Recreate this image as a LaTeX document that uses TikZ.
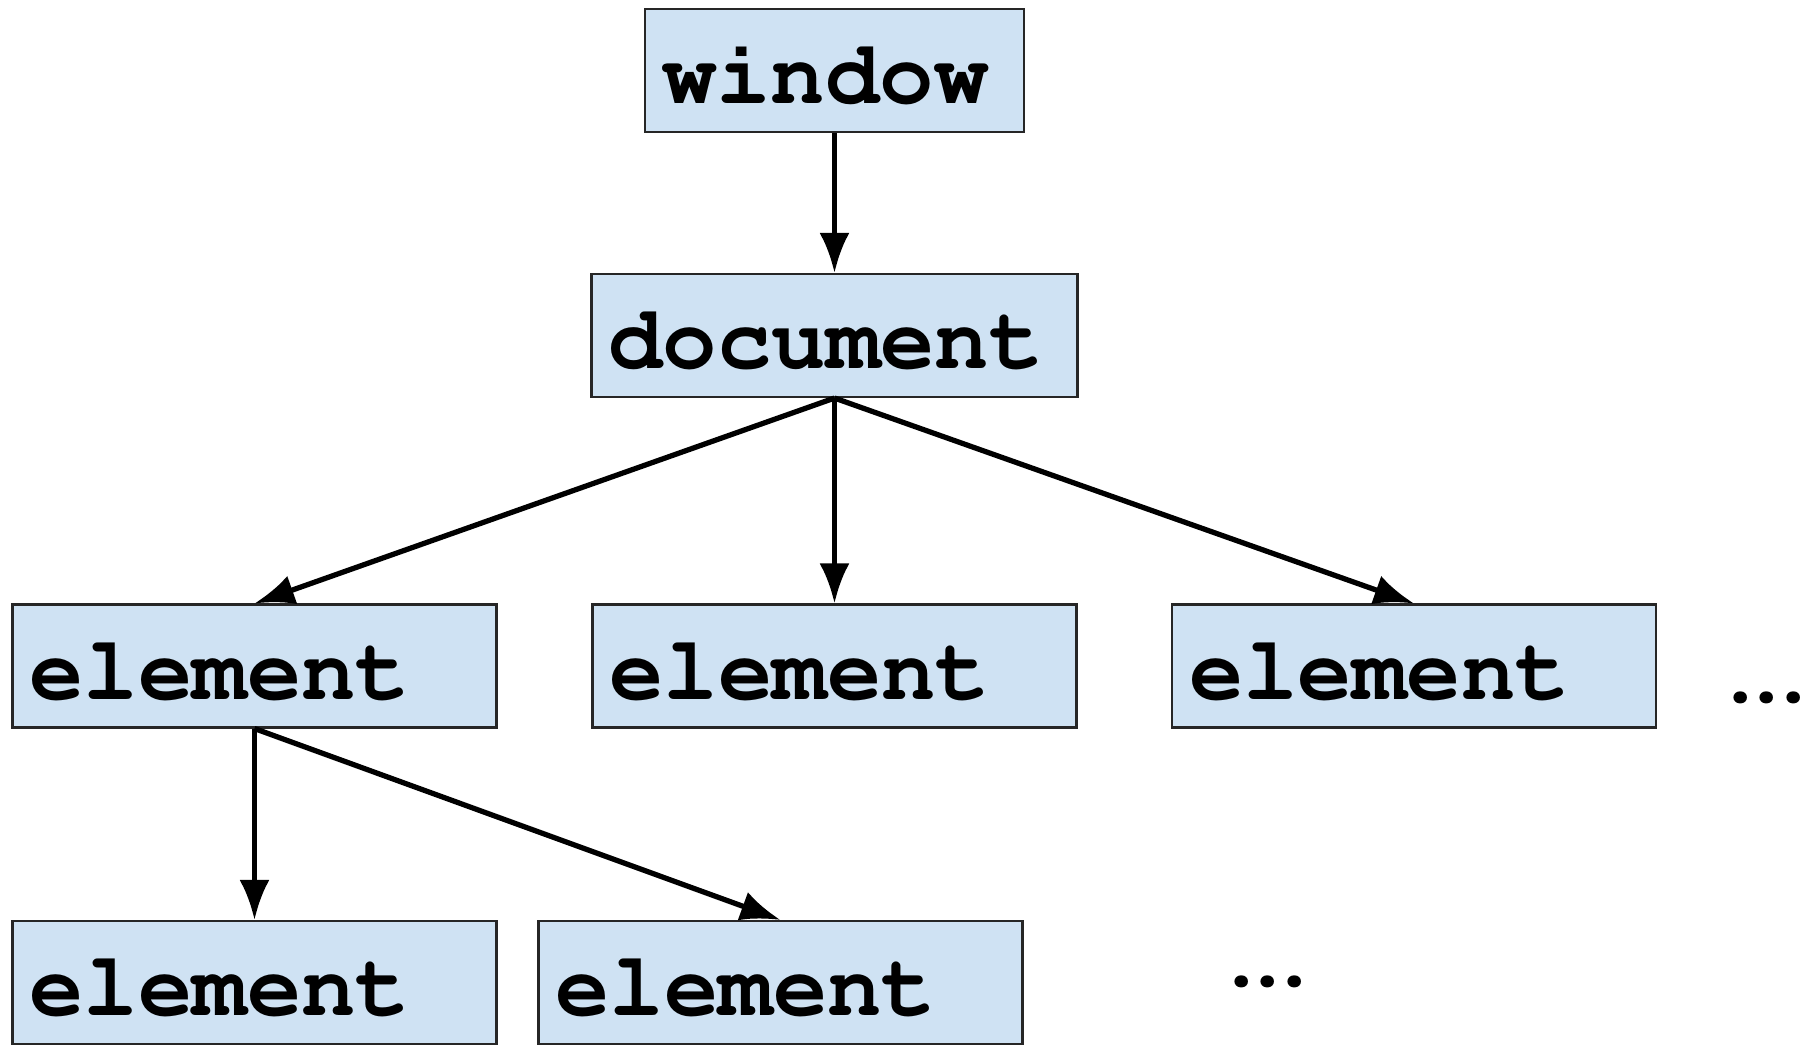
\documentclass[tikz,border=0pt]{standalone}
\usepackage[T1]{fontenc}
\usepackage{fontspec}
\usepackage{tikz}
\usetikzlibrary{arrows.meta,shapes}

\definecolor{domblue}{HTML}{CFE2F3}
\newcommand{\domfont}{\fontencoding{T1}\fontfamily{pcr}\fontseries{b}\selectfont\fontsize{25.8}{30}\selectfont}
\newcommand{\moredots}{.\kern-0.31em.\kern-0.31em.}
\tikzset{
  domnode/.style={draw=black!85, fill=domblue, line width=0.6pt,
    minimum height=1.23cm, inner xsep=0.17cm, text width=#1, align=left,
    text height=0.66cm, text depth=0cm, font=\domfont},
  domdots/.style={anchor=base, font=\domfont},
  link/.style={->, line width=1.5pt}
}

\begin{document}
\begin{tikzpicture}[>={Latex[length=4mm,width=3mm]}]

        \useasboundingbox (0cm,0cm) rectangle (18.2cm,10.44cm);
        \clip (0cm,0cm) rectangle (18.2cm,10.44cm);

        % top of the tree
        \node[domnode=3.45cm] (window) at (8.345cm,9.735cm) {window};
        \node[domnode=4.52cm] (doc) at (8.345cm,7.085cm) {document};

        % children of document
        \node[domnode=4.50cm] (elA) at (2.545cm,3.78cm) {element};
        \node[domnode=4.50cm] (elB) at (8.345cm,3.78cm) {element};
        \node[domnode=4.50cm] (elC) at (14.14cm,3.78cm) {element};
        \node[domdots] (moreA) at (17.67cm,3.42cm) {\moredots};

        % children of the first element
        \node[domnode=4.50cm] (elAA) at (2.545cm,0.615cm) {element};
        \node[domnode=4.50cm] (elAB) at (7.805cm,0.615cm) {element};
        \node[domdots] (moreB) at (12.68cm,0.58cm) {\moredots};

        \draw[link] (window.south) -- (doc.north);
        \draw[link] (doc.south) -- (elA.north);
        \draw[link] (doc.south) -- (elB.north);
        \draw[link] (doc.south) -- (elC.north);
        \draw[link] (elA.south) -- (elAA.north);
        \draw[link] (elA.south) -- (elAB.north);
\end{tikzpicture}
\end{document}
